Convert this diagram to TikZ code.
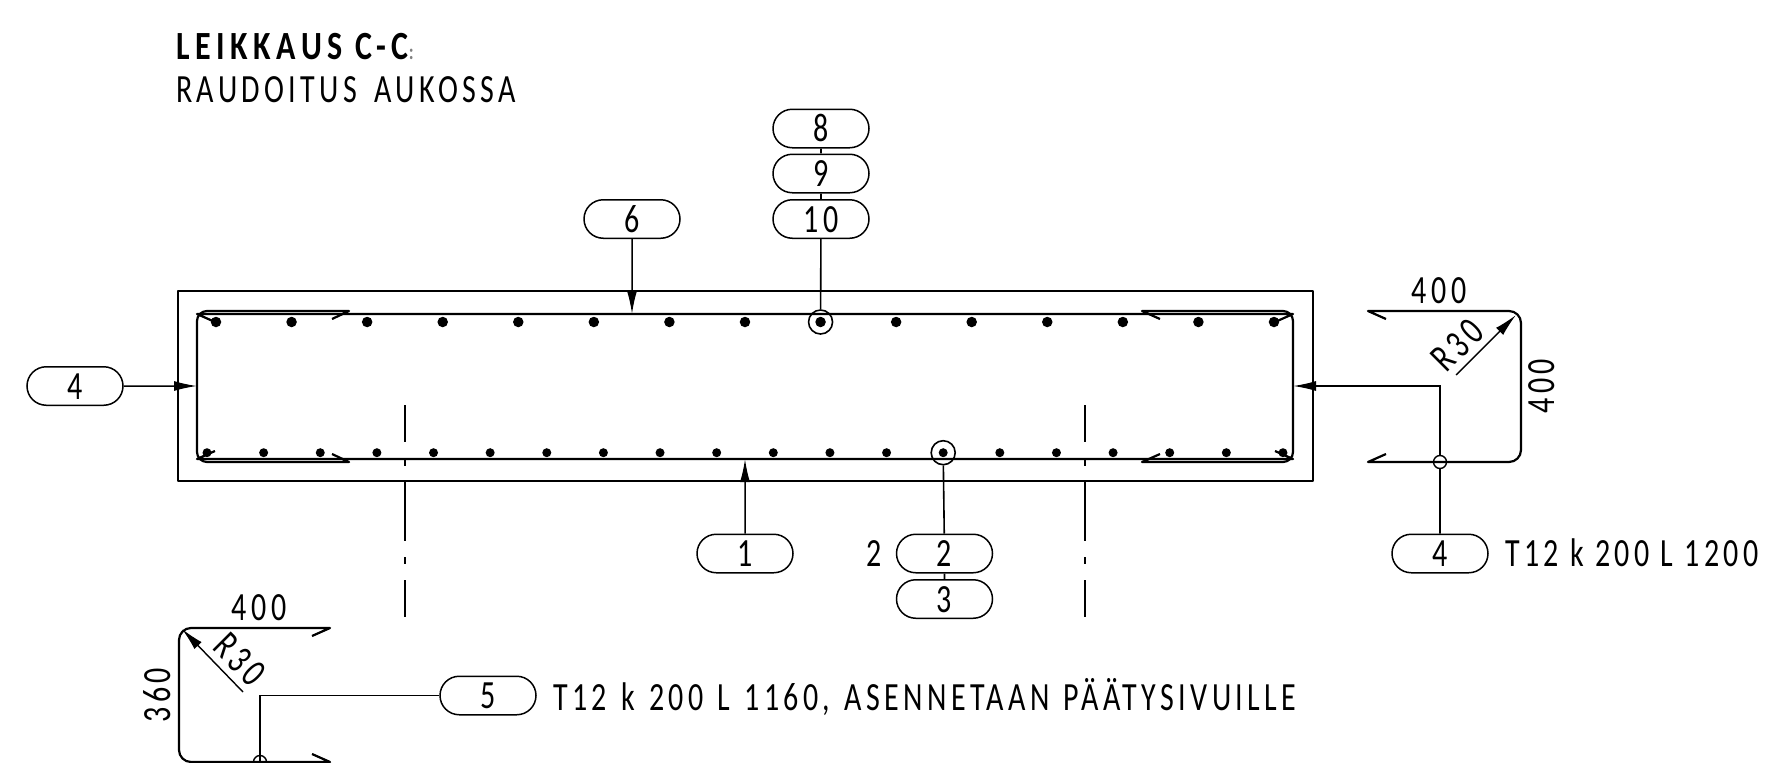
\documentclass[tikz,border=0pt]{standalone}
\usepackage{fontspec}
\setmainfont{Carlito}
\newfontfamily\dinfont[FakeStretch=0.75,LetterSpace=11]{Carlito}
\newfontfamily\dinbold[FakeStretch=0.8,LetterSpace=14,BoldFont={Carlito Bold}]{Carlito}
\usetikzlibrary{arrows.meta,shapes.misc}
\tikzset{
  thin line/.style={line width=1.7pt,line join=round},
  heavy line/.style={line width=2.2pt,line join=round},
  pill/.style={rounded rectangle,draw,line width=1.5pt,minimum width=96pt,minimum height=38.5pt,inner sep=0pt,
    font=\dinfont\fontsize{40}{40}\selectfont,text height=26.5pt,text depth=0pt},
  lbl/.style={inner sep=0pt,font=\dinfont\fontsize{40}{40}\selectfont,text height=26.5pt,text depth=0pt},
  ring/.style={circle,draw,line width=1.6pt,minimum size=24pt,inner sep=0pt},
  leader/.style={line width=1.5pt,-{Latex[length=23pt,width=10pt]}},
  dot1/.style={circle,fill,inner sep=0pt,minimum size=10.5pt},
  dot2/.style={circle,fill,inner sep=0pt,minimum size=9pt},
  cross/.style={circle,draw,line width=1.4pt,minimum size=13pt,inner sep=0pt},
  chain/.style={line width=1.6pt},
}
\newcommand{\gapsp}{\hspace{3pt} }
\begin{document}
\begin{tikzpicture}[x=1pt,y=-1pt]
\useasboundingbox (0,0) rectangle (1765,763);
\clip (0,0) rectangle (1765,763);
% title
\node[lbl,anchor=west,font=\dinbold\bfseries\fontsize{40}{40}\selectfont] (t1) at (176,46) {LEIKKAUS C-C{\color{gray}\fontsize{22}{22}\selectfont :}};
\node[lbl,anchor=west] (t2) at (176,89) {RAUDOITUS\hspace{6pt} AUKOSSA};
% concrete outline
\draw[thin line] (178,291) rectangle (1313,481);
% main bars with hooks
\draw[heavy line] (215,322) -- (197,314) -- (1293,314) -- (1275,322);
\draw[heavy line] (215,451) -- (197,459) -- (1293,459) -- (1275,451);
% U-bars
\draw[heavy line] (332,319) -- (349,311) -- (207,311) arc[start angle=270,end angle=180,radius=10] -- (197,452) arc[start angle=180,end angle=90,radius=10] -- (349,462) -- (332,454);
\draw[heavy line] (1160,319) -- (1142,311) -- (1283,311) arc[start angle=-90,end angle=0,radius=10] -- (1293,452) arc[start angle=0,end angle=90,radius=10] -- (1142,462) -- (1160,454);
% dots
\foreach \i in {0,...,14} \node[dot1] (up\i) at ({216+\i*75.57},322) {};
\foreach \i in {0,...,19} \node[dot2] (lo\i) at ({207+\i*56.63},452.7) {};
\node[ring] (r10) at (up8) {};
\node[ring] (r2) at (lo13) {};
% section lines
\foreach \xx in {405,1085}{
  \draw[line width=1.6pt] (\xx,405) -- (\xx,442);
  \draw[line width=1.6pt] (\xx,460) -- (\xx,466);
  \draw[line width=1.6pt] (\xx,482) -- (\xx,541);
  \draw[line width=1.6pt] (\xx,557) -- (\xx,564);
  \draw[line width=1.6pt] (\xx,580) -- (\xx,617);
}
% pills
\node[pill] (p8) at (821,128.5) {8};
\node[pill] (p9) at (821,173.5) {9};
\node[pill] (p10) at (821,219) {10};
\node[pill] (p6) at (632,219) {6};
\node[pill] (p4l) at (75,386) {4};
\node[pill] (p1) at (745,553.5) {1};
\node[pill] (p2) at (944.5,553.5) {2};
\node[pill] (p3) at (944.5,599) {3};
\node[pill] (p4r) at (1440,553.5) {4};
\node[pill] (p5) at (488,695.5) {5};
\node[lbl] (n2) at (874,553.5) {2};
\node[lbl,anchor=west] (tr) at (1505,553.5) {T12 k 200 L 1200};
\node[lbl,anchor=west] (tb) at (553,697) {T12\gapsp k\gapsp 200\gapsp L\gapsp 1160,\gapsp ASENNETAAN\gapsp PÄÄTYSIVUILLE};
% connector targets
\coordinate (a4l) at (197,386);
\coordinate (a4r) at (1293,386);
\coordinate (a6) at (632,314);
\coordinate (a1) at (745,459);
% connectors
\draw[chain] (p8) -- (p9);
\draw[chain] (p9) -- (p10);
\draw[chain] (p2) -- (p3);
\draw[chain] (p10) -- (r10);
\draw[chain] (p2) -- (r2);
\draw[leader] (p4l) -- (a4l);
\draw[leader] (p6) -- (a6);
\draw[leader] (p1) -- (a1);
% right bent bar
\node[cross] (c4) at (1440,462) {};
\draw[heavy line] (1386,319) -- (1368,311) -- (1509,311) arc[start angle=-90,end angle=0,radius=12] -- (1521,450) arc[start angle=0,end angle=90,radius=12] -- (1368,462) -- (1386,454);
\draw[line width=1.3pt] (c4.west) -- (c4.east);
\draw[chain] (p4r) -- (c4);
\draw[leader] (c4.north) -- (1440,386) -- (a4r);
\node[lbl] (d1) at (1439,290) {400};
\node[lbl,rotate=90] (d2) at (1541,386) {400};
\node[lbl,rotate=45] (d3) at (1457,345) {R30};
\coordinate (rs) at (1456,375);
\coordinate (re) at (1516,315);
\draw[leader,line width=1.4pt] (rs) -- (re);
% lower-left bent bar
\node[cross] (c5) at (260,762) {};
\draw[heavy line] (312,636) -- (330,628) -- (191,628) arc[start angle=270,end angle=180,radius=12] -- (179,750) arc[start angle=180,end angle=90,radius=12] -- (330,762) -- (312,754);
\draw[line width=1.3pt] (c5.north) -- (c5.south);
\draw[chain] (p5.west) -- (260,695.5) -- (c5.north);
\node[lbl] (d4) at (259,607) {400};
\node[lbl,rotate=90] (d5) at (157,695) {360};
\node[lbl,rotate=-45] (d6) at (240,659) {R30};
\coordinate (qs) at (243,692);
\coordinate (qe) at (182,629);
\draw[leader,line width=1.4pt] (qs) -- (qe);
\end{tikzpicture}
\end{document}
